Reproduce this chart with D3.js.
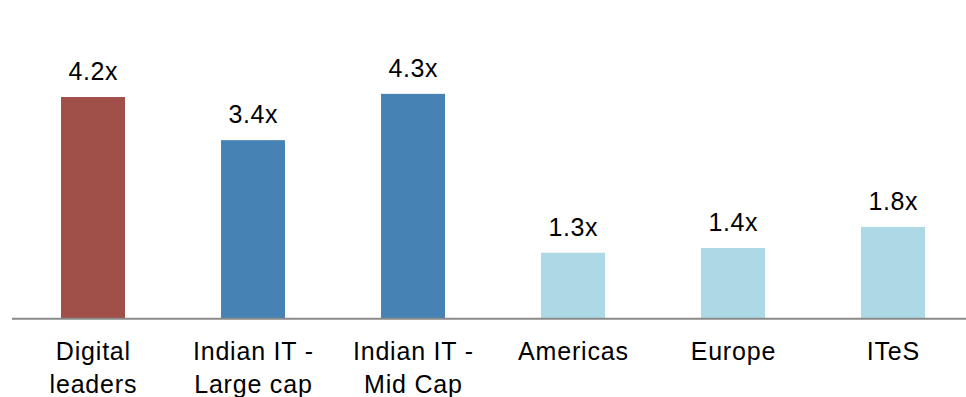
<!DOCTYPE html>
<html>
<head>
<meta charset="utf-8">
<script src="https://cdn.jsdelivr.net/npm/d3@7"></script>
<style>
  html, body { margin: 0; padding: 0; background: #fff; }
  svg { display: block; }
  text { font-family: "Liberation Sans", Arial, sans-serif; fill: #000; }
</style>
</head>
<body>
<svg id="chart" width="966" height="397"></svg>
<script>
const categories = [["Digital", "leaders"], ["Indian IT -", "Large cap"], ["Indian IT -", "Mid Cap"], ["Americas"], ["Europe"], ["ITeS"]];
const values = [4.22, 3.40, 4.28, 1.26, 1.35, 1.75];
const valueLabels = ["4.2x", "3.4x", "4.3x", "1.3x", "1.4x", "1.8x"];
const groups = ["digital", "indian", "indian", "global", "global", "global"];

const colorMap = { digital: "#A14F49", indian: "#4682B4", global: "#ADD8E6" };

const svg = d3.select("#chart");
const baseY = 319;

const x = d3.scaleBand()
  .domain(d3.range(categories.length))
  .range([13, 973])
  .paddingInner(0.6)
  .paddingOuter(0.3);

const y = d3.scaleLinear()
  .domain([0, 5])
  .range([baseY, baseY - 5 * 52.6]);

// bars
svg.append("g").selectAll("rect")
  .data(values)
  .join("rect")
  .attr("x", (d, i) => x(i))
  .attr("y", d => y(d))
  .attr("width", x.bandwidth())
  .attr("height", d => y(0) - y(d))
  .attr("fill", (d, i) => colorMap[groups[i]]);

// value labels
svg.append("g").selectAll("text")
  .data(values)
  .join("text")
  .attr("x", (d, i) => x(i) + x.bandwidth() / 2 + 0.3)
  .attr("y", d => y(d) - 17)
  .attr("text-anchor", "middle")
  .attr("font-size", 25)
  .attr("letter-spacing", 0.6)
  .text((d, i) => valueLabels[i]);

// baseline axis
const axis = d3.axisBottom(x).tickSize(0).tickFormat("");
const axG = svg.append("g").attr("transform", `translate(0,${baseY})`).call(axis);
axG.select(".domain").remove();
svg.append("line")
  .attr("x1", 12).attr("x2", 966)
  .attr("y1", baseY - 0.3).attr("y2", baseY - 0.3)
  .attr("stroke", "#8A8A8A")
  .attr("stroke-width", 2);

// category labels
const catG = svg.append("g").selectAll("text")
  .data(categories)
  .join("text")
  .attr("x", (d, i) => x(i) + x.bandwidth() / 2 + 0.4)
  .attr("y", 360)
  .attr("text-anchor", "middle")
  .attr("font-size", 25)
  .attr("letter-spacing", 0.8);
catG.selectAll("tspan")
  .data(d => d)
  .join("tspan")
  .attr("x", function () { return d3.select(this.parentNode).attr("x"); })
  .attr("dy", (d, j) => j === 0 ? 0 : 33)
  .text(d => d);
</script>
</body>
</html>
